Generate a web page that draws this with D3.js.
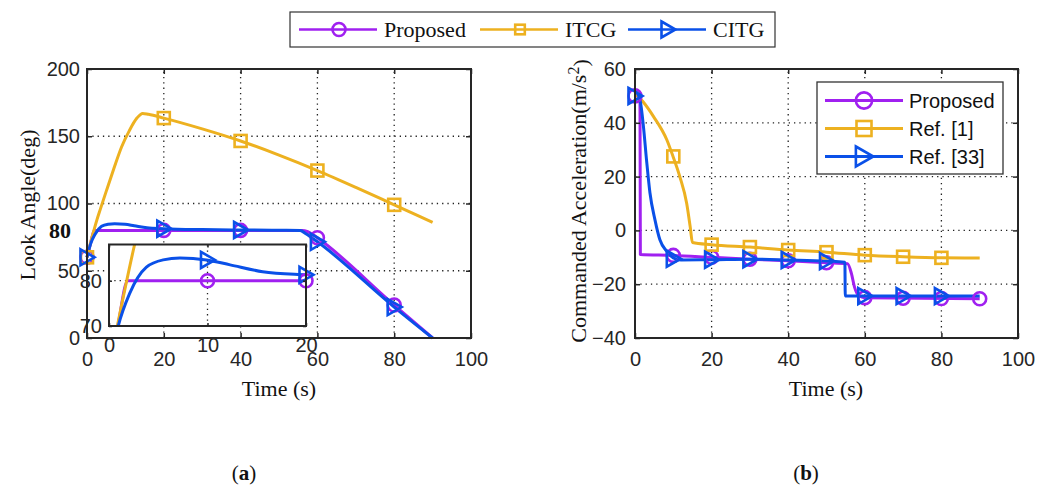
<!DOCTYPE html>
<html>
<head>
<meta charset="utf-8">
<script src="https://cdn.jsdelivr.net/npm/d3@7"></script>
<style>
  body { margin: 0; background: #fff; }
  svg { display: block; }
  .tick text { font-family: "Liberation Sans", Arial, sans-serif; font-size: 20px; fill: #262626; }
  .serif { font-family: "Liberation Serif", "Times New Roman", serif; fill: #111; }
</style>
</head>
<body>
<div class="graph"></div>
<script>
// ---- data ----
const xTicks = [0, 20, 40, 60, 80, 100];
const lookTicks = [0, 50, 100, 150, 200];
const accTicks = [-40, -20, 0, 20, 40, 60];
const insetXTicks = [0, 10, 20];
const insetYTicks = [70, 80];

// (a) look angle, [time, deg]
const lookProposed = [[0,60],[0.9,70],[1.9,80],[56,80],[57.5,79],[59,76.5],[60,74.5],[80,24.5],[90,0]];
const lookITCG = [[0,60],[0.85,70],[1.7,79],[2.6,88],[3.5,96],[5,109],[7,126],[9,142],[11,154],[13,163.5],[14.5,167],[16,166.3],[20,163.5],[30,155.5],[40,146.5],[50,136],[60,124.5],[70,112],[80,99],[90,86]];
const lookCITG = [[0,60],[0.94,70],[2.1,77.2],[3.8,83],[5.5,84.6],[7.2,85],[9.9,84.6],[12.3,83.5],[15.6,82],[20,81.3],[30,80.6],[40,80.3],[50,80.1],[55.5,80],[57,77.5],[60,71.5],[80,23],[90,0]];
const lookProposedMarks = [[0,60],[20,80],[40,80],[60,74.5],[80,24.5]];
const lookITCGMarks = [[0,60],[20,163.5],[40,146.5],[60,124.5],[80,99]];
const lookCITGMarks = [[0,60],[20,81.3],[40,80.3],[60,71.5],[80,23]];
const insetProposedMarks = [[10,80],[20,80]];
const insetCITGMarks = [[10,84.6],[20,81.3]];

// (b) commanded acceleration, [time, m/s^2]
const accProposed = [[0,50],[1.3,50],[1.4,-9],[10,-9.3],[20,-10],[30,-10.7],[40,-11.3],[50,-12],[55.5,-12.4],[56.5,-16],[57.3,-21],[58.5,-24.3],[60,-25],[90,-25.4]];
const accITCG = [[0,51],[2,48],[4.8,42.4],[8.3,33.7],[9.8,28],[11.7,20],[13.5,10],[14.4,1.5],[15,-4.5],[20,-5.3],[30,-6.2],[40,-7.3],[50,-8.1],[60,-9.2],[70,-9.8],[80,-10.2],[90,-10.3]];
const accCITG = [[0,52],[1.3,48.5],[2.2,38.7],[3,26.3],[3.9,14],[5.2,4],[6.5,-3.5],[8.3,-7.8],[10,-10.2],[12,-11],[20,-10.9],[30,-10.7],[40,-11],[50,-11.4],[54.8,-11.8],[54.9,-24.4],[90,-24.4]];
const accProposedMarks = [[0,50],[10,-9.3],[20,-10],[30,-10.7],[40,-11.3],[50,-12],[60,-25],[70,-25.2],[80,-25.3],[90,-25.4]];
const accITCGMarks = [[10,27.5],[20,-5.3],[30,-6.2],[40,-7.3],[50,-8.1],[60,-9.2],[70,-9.8],[80,-10.2]];
const accCITGMarks = [[0,50],[10,-10.5],[20,-10.9],[30,-10.7],[40,-11],[50,-11.4],[60,-24.4],[70,-24.4],[80,-24.4]];

const topLegend = ["Proposed", "ITCG", "CITG"];
const innerLegend = ["Proposed", "Ref. [1]", "Ref. [33]"];

const purple = "#a020f0", orange = "#edb120", blue = "#0a50e8";
const w = 1051, h = 488;

const svg = d3.select(".graph").append("svg").attr("width", w).attr("height", h);

function marker(g, type, x, y, color, s) {
  s = s || 1;
  if (type === "o") {
    g.append("circle").attr("cx", x).attr("cy", y).attr("r", 6.5 * s)
      .attr("fill", "none").attr("stroke", color).attr("stroke-width", 2.6);
  } else if (type === "s") {
    g.append("rect").attr("x", x - 6 * s).attr("y", y - 6 * s).attr("width", 12 * s).attr("height", 12 * s)
      .attr("fill", "none").attr("stroke", color).attr("stroke-width", 2.6);
  } else {
    g.append("path").attr("d", `M${x - 6.5 * s},${y - 8 * s}L${x + 7.5 * s},${y}L${x - 6.5 * s},${y + 8 * s}Z`)
      .attr("fill", "none").attr("stroke", color).attr("stroke-width", 2.6).attr("stroke-linejoin", "miter");
  }
}

function frame(g, x, y, gridX, gridY) {
  const [x0, x1] = x.range(), [y0, y1] = y.range();
  // dotted grid
  g.selectAll(null).data(gridX).enter().append("line")
    .attr("x1", d => x(d)).attr("x2", d => x(d)).attr("y1", y0).attr("y2", y1)
    .attr("stroke", "#222").attr("stroke-width", 1.3).attr("stroke-dasharray", "1.3,4");
  g.selectAll(null).data(gridY).enter().append("line")
    .attr("y1", d => y(d)).attr("y2", d => y(d)).attr("x1", x0).attr("x2", x1)
    .attr("stroke", "#222").attr("stroke-width", 1.3).attr("stroke-dasharray", "1.3,4");
}

function axes(g, x, y, xt, yt, padX, padY, tick) {
  const [x0, x1] = x.range(), [y0, y1] = y.range();
  const ax = [
    g.append("g").attr("transform", `translate(0,${y0})`)
      .call(d3.axisBottom(x).tickValues(xt).tickSizeInner(-tick).tickSizeOuter(0).tickPadding(padX)),
    g.append("g").attr("transform", `translate(${x0},0)`)
      .call(d3.axisLeft(y).tickValues(yt).tickSizeInner(-tick).tickSizeOuter(0).tickPadding(padY)),
    g.append("g").attr("transform", `translate(0,${y1})`)
      .call(d3.axisTop(x).tickValues(xt).tickSizeInner(-tick).tickSizeOuter(0).tickFormat("")),
    g.append("g").attr("transform", `translate(${x1},0)`)
      .call(d3.axisRight(y).tickValues(yt).tickSizeInner(-tick).tickSizeOuter(0).tickFormat(""))
  ];
  ax.forEach(a => { a.select(".domain").remove(); a.selectAll(".tick line").attr("stroke", "#262626").attr("stroke-width", 1.5); });
  g.append("rect").attr("x", x0).attr("y", y1).attr("width", x1 - x0).attr("height", y0 - y1)
    .attr("fill", "none").attr("stroke", "#262626").attr("stroke-width", 2);
}

function series(g, x, y, data, color, clip) {
  const line = d3.line().x(d => x(d[0])).y(d => y(d[1])).curve(d3.curveMonotoneX);
  const p = g.append("path").datum(data).attr("d", line)
    .attr("fill", "none").attr("stroke", color).attr("stroke-width", 3).attr("stroke-linejoin", "round");
  if (clip) p.attr("clip-path", clip);
}

function marks(g, x, y, data, type, color) {
  data.forEach(d => marker(g, type, x(d[0]), y(d[1]), color));
}

// ================= panel (a) =================
const xA = d3.scaleLinear().domain([0, 100]).range([87, 471]);
const yA = d3.scaleLinear().domain([0, 200]).range([338, 69]);
const gA = svg.append("g");
frame(gA, xA, yA, [20, 40, 60, 80], [50, 100, 150]);
series(gA, xA, yA, lookProposed, purple);
series(gA, xA, yA, lookITCG, orange);
series(gA, xA, yA, lookCITG, blue);
marks(gA, xA, yA, lookProposedMarks, "o", purple);
marks(gA, xA, yA, lookITCGMarks, "s", orange);
marks(gA, xA, yA, lookCITGMarks, ">", blue);
axes(gA, xA, yA, xTicks, lookTicks, 14, 7, 5);

gA.append("text").attr("class", "serif").attr("x", 71).attr("y", yA(80)).attr("dy", "0.35em")
  .attr("text-anchor", "end").attr("font-size", 22).attr("font-weight", "bold").attr("fill", "#000").text("80");

// inset
const xI = d3.scaleLinear().domain([0, 20]).range([109, 306]);
const yI = d3.scaleLinear().domain([70, 88]).range([326, 244.5]);
const gI = svg.append("g");
gI.append("clipPath").attr("id", "insetClip").append("rect")
  .attr("x", 109).attr("y", 244.5).attr("width", 197).attr("height", 81.5);
gI.append("rect").attr("x", 109).attr("y", 244.5).attr("width", 197).attr("height", 81.5).attr("fill", "#fff");
frame(gI, xI, yI, [10], [80]);
series(gI, xI, yI, lookProposed, purple, "url(#insetClip)");
series(gI, xI, yI, lookITCG, orange, "url(#insetClip)");
series(gI, xI, yI, lookCITG, blue, "url(#insetClip)");
marks(gI, xI, yI, insetProposedMarks, "o", purple);
marks(gI, xI, yI, insetCITGMarks, ">", blue);
axes(gI, xI, yI, insetXTicks, insetYTicks, 12, 7, 3);

gA.append("text").attr("class", "serif").attr("font-size", 22)
  .attr("transform", `translate(27,205) rotate(-90)`).attr("text-anchor", "middle").attr("dy", "0.35em")
  .text("Look Angle(deg)");
svg.append("text").attr("class", "serif").attr("font-size", 22)
  .attr("x", 279).attr("y", 388).attr("dy", "0.35em").attr("text-anchor", "middle").text("Time (s)");

// ================= panel (b) =================
const xB = d3.scaleLinear().domain([0, 100]).range([635, 1018]);
const yB = d3.scaleLinear().domain([-40, 60]).range([338, 69]);
const gB = svg.append("g");
frame(gB, xB, yB, [20, 40, 60, 80], [-20, 0, 20, 40]);
series(gB, xB, yB, accProposed, purple);
series(gB, xB, yB, accITCG, orange);
series(gB, xB, yB, accCITG, blue);
marks(gB, xB, yB, accProposedMarks, "o", purple);
marks(gB, xB, yB, accITCGMarks, "s", orange);
marks(gB, xB, yB, accCITGMarks, ">", blue);
axes(gB, xB, yB, xTicks, accTicks, 14, 9, 5);

const yl = gB.append("text").attr("class", "serif").attr("font-size", 22)
  .attr("transform", `translate(578,201) rotate(-90)`).attr("text-anchor", "middle").attr("dy", "0.35em");
yl.append("tspan").text("Commanded Acceleration(m/s");
yl.append("tspan").attr("dy", "-0.45em").attr("font-size", 16).text("2");
yl.append("tspan").attr("dy", "0.45em").text(")");
svg.append("text").attr("class", "serif").attr("font-size", 22)
  .attr("x", 826).attr("y", 388).attr("dy", "0.35em").attr("text-anchor", "middle").text("Time (s)");

// inner legend (b)
const lg = svg.append("g");
lg.append("rect").attr("x", 817).attr("y", 82).attr("width", 186).attr("height", 92)
  .attr("fill", "#fff").attr("stroke", "#333").attr("stroke-width", 1.3);
const lColors = [purple, orange, blue], lTypes = ["o", "s", ">"];
innerLegend.forEach((t, i) => {
  const yy = 100.5 + i * 28;
  lg.append("line").attr("x1", 825).attr("x2", 903).attr("y1", yy).attr("y2", yy)
    .attr("stroke", lColors[i]).attr("stroke-width", 3);
  marker(lg, lTypes[i], 864, yy, lColors[i], 1.25);
  lg.append("text").attr("x", 909).attr("y", yy).attr("dy", "0.35em")
    .attr("font-family", "Liberation Sans, Arial, sans-serif").attr("font-size", 20).attr("fill", "#111").text(t);
});

// top legend
const tg = svg.append("g");
tg.append("rect").attr("x", 290).attr("y", 12).attr("width", 485).attr("height", 35)
  .attr("fill", "#fff").attr("stroke", "#333").attr("stroke-width", 1.2);
const topX = [299, 480, 628];
topLegend.forEach((t, i) => {
  const x0 = topX[i];
  tg.append("line").attr("x1", x0).attr("x2", x0 + 78).attr("y1", 29.5).attr("y2", 29.5)
    .attr("stroke", lColors[i]).attr("stroke-width", 2.5);
  marker(tg, lTypes[i], x0 + 40, 29.5, lColors[i], lTypes[i] === "s" ? 0.8 : 1);
  tg.append("text").attr("class", "serif").attr("x", x0 + 85).attr("y", 29.5).attr("dy", "0.35em")
    .attr("font-size", 22).text(t);
});

// panel captions
[["a", 244], ["b", 806]].forEach(([c, x]) => {
  const t = svg.append("text").attr("class", "serif").attr("x", x).attr("y", 473).attr("dy", "0.35em")
    .attr("text-anchor", "middle").attr("font-size", 21).attr("fill", "#000");
  t.append("tspan").text("(");
  t.append("tspan").attr("font-weight", "bold").text(c);
  t.append("tspan").text(")");
});
</script>
</body>
</html>
